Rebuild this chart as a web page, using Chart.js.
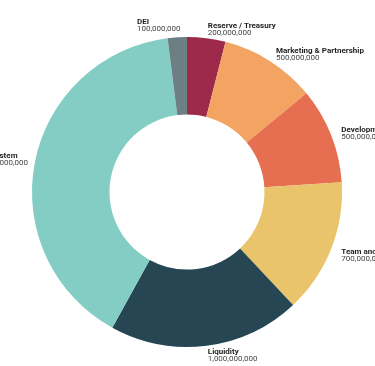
<!DOCTYPE html>
<html>
<head>
<meta charset="utf-8">
<script src="https://cdn.jsdelivr.net/npm/chart.js@4/dist/chart.umd.min.js"></script>
<style>
  html, body { margin: 0; padding: 0; background: #fff; }
  #wrap { width: 375px; height: 366px; }
</style>
</head>
<body>
<div id="wrap"><canvas id="tokenChart"></canvas></div>
<script>
const labels = ['Reserve / Treasury', 'Marketing & Partnership', 'Development', 'Team and Advisors', 'Liquidity', 'Ecosystem', 'DEI'];
const amounts = [200000000, 500000000, 500000000, 700000000, 1000000000, 2000000000, 100000000];
const colors = ['#9e2a4b', '#f4a462', '#e76f51', '#e9c46b', '#264653', '#83cdc4', '#6b7f85'];

const boldFont = 'bold 8px Roboto, "Noto Sans", sans-serif';
const normFont = '8px Roboto, "Noto Sans", sans-serif';

// draws name + amount outside each slice
const outLabels = {
  id: 'outLabels',
  afterDatasetsDraw(chart) {
    const ctx = chart.ctx;
    const meta = chart.getDatasetMeta(0);
    ctx.save();
    ctx.textBaseline = 'middle';
    ctx.textAlign = 'left';
    meta.data.forEach((arc, i) => {
      const p = arc.getProps(['x', 'y', 'startAngle', 'endAngle', 'outerRadius'], true);
      const mid = (p.startAngle + p.endAngle) / 2;
      const r = p.outerRadius + 11;
      const ax = p.x + Math.cos(mid) * r;
      const ay = p.y + Math.sin(mid) * r;
      const name = labels[i];
      const val = amounts[i].toLocaleString('en-US');
      ctx.font = boldFont;
      const w1 = ctx.measureText(name).width;
      ctx.font = normFont;
      const w2 = ctx.measureText(val).width;
      const w = Math.max(w1, w2);
      const left = ax < p.x;
      const x = left ? ax + 4 - w : ax;
      const y = (left || Math.sin(mid) > 0.9) ? ay - 4.5 : ay - 1;
      ctx.fillStyle = '#1e1e1e';
      ctx.font = boldFont;
      ctx.fillText(name, x, y);
      ctx.fillStyle = '#444';
      ctx.font = normFont;
      ctx.fillText(val, x, y + 7);
    });
    ctx.restore();
  }
};

new Chart(document.getElementById('tokenChart'), {
  type: 'doughnut',
  data: {
    labels: labels,
    datasets: [{
      data: amounts,
      backgroundColor: colors,
      borderWidth: 0
    }]
  },
  options: {
    responsive: true,
    maintainAspectRatio: false,
    animation: false,
    cutout: '50%',
    layout: { padding: { top: 37, bottom: 19, left: 32, right: 33 } },
    plugins: {
      legend: { display: false },
      tooltip: { enabled: false }
    }
  },
  plugins: [outLabels]
});
</script>
</body>
</html>
